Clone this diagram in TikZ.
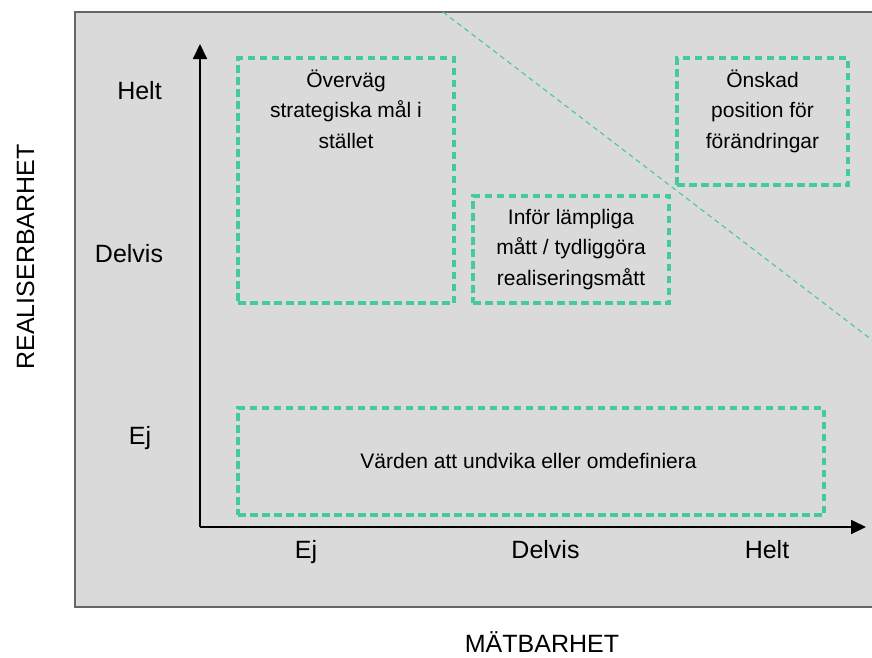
\documentclass[tikz,border=0pt]{standalone}
\usepackage{fontspec}
\setmainfont{Liberation Sans}
\usetikzlibrary{arrows.meta,positioning}

\definecolor{mintgreen}{HTML}{45C99E}
\definecolor{panelgray}{HTML}{DADADA}

\tikzset{
  zone/.style={draw=mintgreen, line width=3.3pt, dash pattern=on 7.5pt off 4.5pt},
  zonetext/.style={align=center, font=\fontsize{21}{30.5}\selectfont, inner sep=0pt},
  level/.style={font=\fontsize{25}{30}\selectfont, anchor=base, inner sep=0pt},
  axistitle/.style={font=\fontsize{25}{30}\selectfont, anchor=base, inner sep=0pt},
}

\begin{document}
\begin{tikzpicture}[x=1pt, y=-1pt]
    \useasboundingbox (0,0) rectangle (872,657);
    \draw[fill=panelgray, draw=black!60, line width=1.2pt] (75,12) rectangle (900,607);

    % axes
    \coordinate (O) at (200,527);
    \coordinate (ytop) at (200,44);
    \coordinate (xend) at (866,527);
    \draw[line width=1.8pt, -{Triangle[length=15pt,width=14pt]}] (O) -- (ytop);
    \draw[line width=1.8pt, -{Triangle[length=15pt,width=14pt]}] (O) -- (xend);

    % diagonal
    \coordinate (d1) at (443,12);
    \coordinate (d2) at (872,340);
    \draw[mintgreen, line width=1.1pt, dash pattern=on 5pt off 4pt] (d1) -- (d2);

    % zones
    \node[zone, minimum width=216pt, minimum height=245pt] (strat) at (346,180.5) {};
        \node[zonetext, below=13pt of strat.north] (strattext) {Överväg\\strategiska mål i\\stället};
    \node[zone, minimum width=196pt, minimum height=107pt] (matt) at (571,249.5) {};
        \node[zonetext] (matttext) at (matt.center) {Inför lämpliga\\mått / tydliggöra\\realiseringsmått};
    \node[zone, minimum width=171pt, minimum height=127pt] (goal) at (762.5,121.5) {};
        \node[zonetext, below=13pt of goal.north] (goaltext) {Önskad\\position för\\förändringar};
    \node[zone, minimum width=586pt, minimum height=107pt] (avoid) at (531,461.5) {};
        \node[zonetext, anchor=base] (avoidtext) at (528.5,468) {Värden att undvika eller omdefiniera};

    % levels
    \node[level] (yhelt) at (139.5,99) {Helt};
    \node[level] (ydelvis) at (129,262) {Delvis};
    \node[level] (yej) at (140,444) {Ej};
    \node[level] (xej) at (306,558) {Ej};
    \node[level] (xdelvis) at (545.5,558) {Delvis};
    \node[level] (xhelt) at (767,558) {Helt};

    % titles
    \node[axistitle, rotate=90] (ytitle) at (34,257) {REALISERBARHET};
    \node[axistitle] (xtitle) at (542,652) {MÄTBARHET};
\end{tikzpicture}
\end{document}
